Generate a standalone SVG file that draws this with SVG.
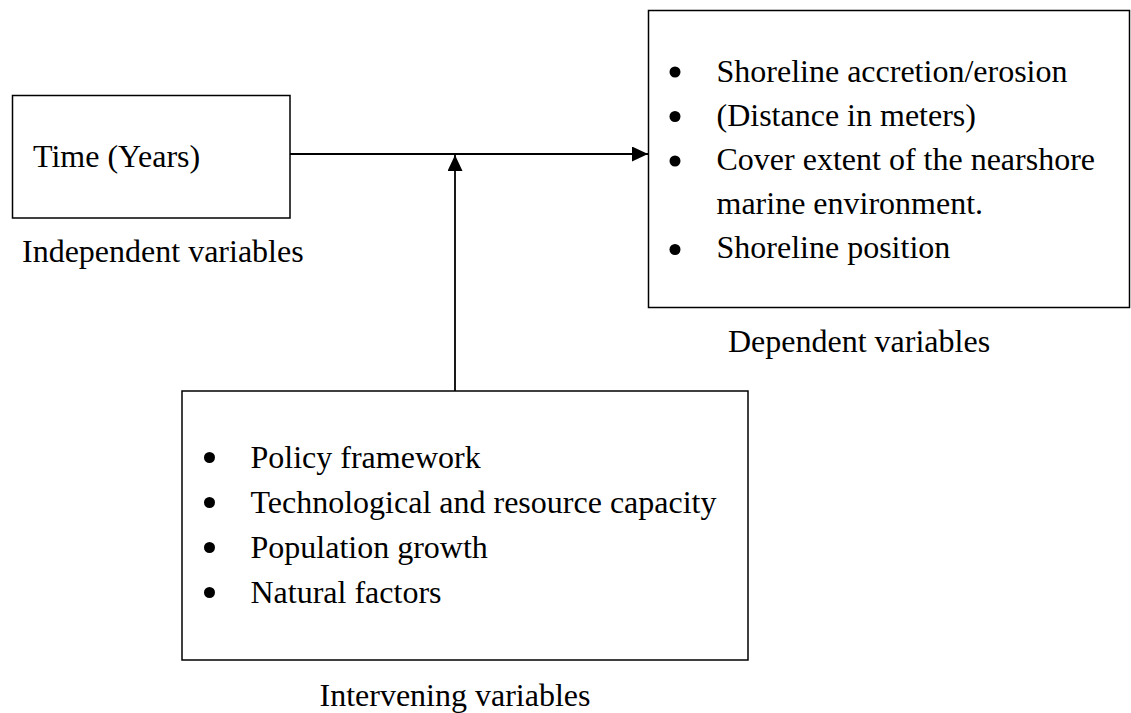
<svg xmlns="http://www.w3.org/2000/svg" width="1131" height="713" viewBox="0 0 1131 713">
<style>
  .box { fill: #fff; stroke: #000; stroke-width: 1.5; }
  .t { font-family: "Liberation Serif", "Times New Roman", serif; font-size: 32px; fill: #000; }
  .line { stroke: #000; stroke-width: 1.8; fill: none; }
  .bul { fill: #000; }
</style>
<defs>
  <marker id="arrow" viewBox="0 0 16 15" refX="16" refY="7.5" markerWidth="16" markerHeight="15" markerUnits="userSpaceOnUse" orient="auto">
    <path d="M0,0 L16,7.5 L0,15 Z" fill="#000"/>
  </marker>
</defs>
<rect width="1131" height="713" fill="#fff"/>

<g id="connectors">
  <line class="line" x1="290" y1="154" x2="648" y2="154" marker-end="url(#arrow)"/>
  <line class="line" x1="455" y1="391" x2="455" y2="155" marker-end="url(#arrow)"/>
</g>

<g id="independent">
  <rect class="box" x="12.5" y="95.5" width="277.5" height="122.5"/>
  <text class="t" x="33" y="167">Time (Years)</text>
  <text class="t" x="22" y="262">Independent variables</text>
</g>

<g id="dependent">
  <rect class="box" x="648.5" y="10.5" width="481" height="297"/>
  <circle class="bul" cx="675" cy="72" r="5.5"/>
  <circle class="bul" cx="675" cy="116.5" r="5.5"/>
  <circle class="bul" cx="675" cy="161" r="5.5"/>
  <circle class="bul" cx="675" cy="249.5" r="5.5"/>
  <text class="t" x="716.5" y="82">Shoreline accretion/erosion</text>
  <text class="t" x="716.5" y="126">(Distance in meters)</text>
  <text class="t" x="716.5" y="170">Cover extent of the nearshore</text>
  <text class="t" x="716.5" y="214">marine environment.</text>
  <text class="t" x="716.5" y="258">Shoreline position</text>
  <text class="t" x="728" y="352">Dependent variables</text>
</g>

<g id="intervening">
  <rect class="box" x="182" y="391" width="566" height="269"/>
  <circle class="bul" cx="209.5" cy="457.5" r="5.5"/>
  <circle class="bul" cx="209.5" cy="502.5" r="5.5"/>
  <circle class="bul" cx="209.5" cy="547.5" r="5.5"/>
  <circle class="bul" cx="209.5" cy="592.5" r="5.5"/>
  <text class="t" x="250.5" y="468">Policy framework</text>
  <text class="t" x="250.5" y="513">Technological and resource capacity</text>
  <text class="t" x="250.5" y="558">Population growth</text>
  <text class="t" x="250.5" y="603">Natural factors</text>
  <text class="t" x="455" y="706" text-anchor="middle">Intervening variables</text>
</g>
</svg>
